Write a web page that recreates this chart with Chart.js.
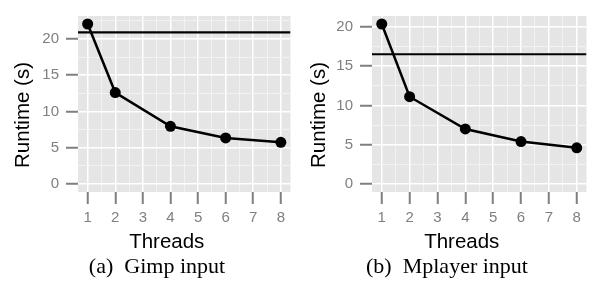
<!DOCTYPE html>
<html>
<head>
<meta charset="utf-8">
<script src="https://cdn.jsdelivr.net/npm/chart.js@4/dist/chart.umd.min.js"></script>
<style>
  html, body { margin: 0; padding: 0; background: #fff; }
  #wrap { position: relative; width: 592px; height: 282px; overflow: hidden; }
  .panel { position: absolute; top: 0; width: 296px; height: 282px; }
  .caption { position: absolute; top: 255px; width: 300px; text-align: center; line-height: 22px;
             font-family: "Liberation Serif", "Times New Roman", serif; font-size: 22px; color: #000; white-space: pre; }
</style>
</head>
<body>
<div id="wrap">
  <div class="panel" style="left:0px"><canvas id="c1" width="296" height="282"></canvas></div>
  <div class="panel" style="left:296px"><canvas id="c2" width="296" height="282"></canvas></div>
  <div class="caption" id="cap1" style="left:7px">(a)  Gimp input</div>
  <div class="caption" id="cap2" style="left:297px">(b)  Mplayer input</div>
</div>
<script>
// ---- data ----
const threads = [1, 2, 4, 6, 8];
const gimpRuntime = [22.05, 12.6, 7.95, 6.35, 5.75];
const mplayerRuntime = [20.35, 11.1, 7.0, 5.4, 4.6];
const sequentialRuntime = [20.9, 16.5];   // horizontal reference line per panel
const xTickLabels = [1, 2, 3, 4, 5, 6, 7, 8];
const yTickLabels = [0, 5, 10, 15, 20];
const xTitle = "Threads";
const yTitle = "Runtime (s)";

const GRAY_BG = "#E5E5E5";
const TICK_GRAY = "#7F7F7F";
const SANS = '"Liberation Sans", Arial, sans-serif';

const bgPlugin = {
  id: "ggbg",
  beforeDraw(chart) {
    const a = chart.chartArea, ctx = chart.ctx;
    ctx.save();
    ctx.fillStyle = GRAY_BG;
    ctx.fillRect(a.left, a.top, a.right - a.left, a.bottom - a.top);
    ctx.restore();
  }
};

const refLinePlugin = {
  id: "refline",
  afterDatasetsDraw(chart, args, opts) {
    const a = chart.chartArea, ctx = chart.ctx;
    const y = chart.scales.y.getPixelForValue(opts.value);
    ctx.save();
    ctx.beginPath();
    ctx.rect(a.left, a.top, a.right - a.left, a.bottom - a.top);
    ctx.clip();
    ctx.strokeStyle = "#000";
    ctx.lineWidth = 2.2;
    ctx.beginPath();
    ctx.moveTo(a.left, y);
    ctx.lineTo(a.right, y);
    ctx.stroke();
    ctx.restore();
  }
};

const titlesPlugin = {
  id: "ggtitles",
  afterDraw(chart) {
    const a = chart.chartArea, ctx = chart.ctx;
    ctx.save();
    ctx.fillStyle = "#000";
    ctx.font = '20.5px ' + SANS;
    ctx.textAlign = "center";
    ctx.textBaseline = "alphabetic";
    ctx.fillText(xTitle, (a.left + a.right) / 2 - 17.5, 247.5);
    ctx.translate(28.5, 115);
    ctx.rotate(-Math.PI / 2);
    ctx.fillText(yTitle, 0, 0);
    ctx.restore();
  }
};

function isMajor(v) { return Math.abs(v - Math.round(v)) < 1e-6; }
function isMajorY(v) { return Math.abs(v % 5) < 1e-6; }

function makeChart(id, values, ref, leftW, rightPad) {
  const ymax = Math.max(...values);
  const yspan = ymax - 0;
  const xmin = Math.min(...threads), xmax = Math.max(...threads);
  const xspan = xmax - xmin;
  return new Chart(document.getElementById(id), {
    type: "line",
    data: {
      datasets: [{
        data: threads.map((t, i) => ({ x: t, y: values[i] })),
        borderColor: "#000",
        backgroundColor: "#000",
        borderWidth: 2.5,
        pointRadius: 5.5,
        pointBackgroundColor: "#000",
        pointBorderWidth: 0,
        tension: 0,
        clip: false
      }]
    },
    options: {
      responsive: false,
      animation: false,
      devicePixelRatio: 1,
      layout: { padding: { left: 0, right: rightPad, top: 7, bottom: 0 } },
      plugins: {
        legend: { display: false },
        tooltip: { enabled: false },
        refline: { value: ref }
      },
      scales: {
        x: {
          type: "linear",
          min: xmin - 0.05 * xspan,
          max: xmax + 0.05 * xspan,
          afterFit(s) { s.height = 90; },
          border: { display: false },
          grid: {
            color: (c) => isMajor(c.tick.value) ? "#FFFFFF" : "#F2F2F2",
            lineWidth: (c) => isMajor(c.tick.value) ? 1.5 : 1,
            tickColor: (c) => isMajor(c.tick.value) ? TICK_GRAY : "rgba(0,0,0,0)",
            tickLength: 12,
            tickWidth: 2
          },
          ticks: {
            stepSize: 0.5,
            includeBounds: false,
            autoSkip: false,
            maxRotation: 0,
            padding: 5,
            color: TICK_GRAY,
            font: { family: SANS, size: 15 },
            callback: (v) => {
              const k = xTickLabels.indexOf(v);
              return k >= 0 ? String(xTickLabels[k]) : "";
            }
          }
        },
        y: {
          type: "linear",
          min: 0 - 0.05 * yspan,
          max: ymax + 0.05 * yspan,
          afterFit(s) { s.width = leftW; },
          border: { display: false },
          grid: {
            color: (c) => isMajorY(c.tick.value) ? "#FFFFFF" : "#F2F2F2",
            lineWidth: (c) => isMajorY(c.tick.value) ? 1.5 : 1,
            tickColor: (c) => isMajorY(c.tick.value) ? TICK_GRAY : "rgba(0,0,0,0)",
            tickLength: 12,
            tickWidth: 2
          },
          ticks: {
            stepSize: 2.5,
            includeBounds: false,
            autoSkip: false,
            padding: 7,
            color: TICK_GRAY,
            font: { family: SANS, size: 15 },
            callback: (v) => {
              const k = yTickLabels.indexOf(v);
              return k >= 0 ? String(yTickLabels[k]) : "";
            }
          }
        }
      }
    },
    plugins: [bgPlugin, refLinePlugin, titlesPlugin]
  });
}

makeChart("c1", gimpRuntime, sequentialRuntime[0], 78, 1);
makeChart("c2", mplayerRuntime, sequentialRuntime[1], 76, 3);
</script>
</body>
</html>
